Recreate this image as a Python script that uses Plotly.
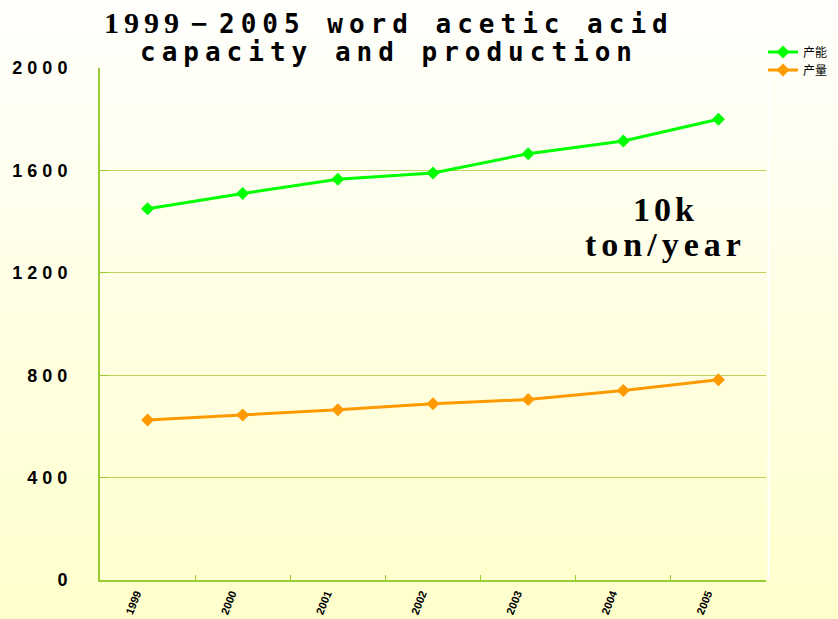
import base64, struct, zlib
import plotly.graph_objects as go

years = ["1999", "2000", "2001", "2002", "2003", "2004", "2005"]
capacity = [1450, 1510, 1565, 1590, 1665, 1715, 1800]
production = [625, 645, 665, 688, 705, 740, 782]
series_names = ["产能", "产量"]
y_ticks = [0, 400, 800, 1200, 1600, 2000]

W, H = 838, 619
L, R, T, B = 100, 72, 68, 39
PW, PH = W - L - R, H - T - B


def px_x(x):
    return (x - L) / PW


def px_y(y):
    return (H - B - y) / PH


def gradient_png(h, top, bottom):
    raw = b""
    for i in range(h):
        t = i / (h - 1)
        c = bytes(int(round(top[k] + (bottom[k] - top[k]) * t)) for k in range(3))
        raw += b"\x00" + c
    def chunk(tag, data):
        return struct.pack(">I", len(data)) + tag + data + struct.pack(">I", zlib.crc32(tag + data) & 0xffffffff)
    png = b"\x89PNG\r\n\x1a\n" + chunk(b"IHDR", struct.pack(">IIBBBBB", 1, h, 8, 2, 0, 0, 0)) \
        + chunk(b"IDAT", zlib.compress(raw)) + chunk(b"IEND", b"")
    return "data:image/png;base64," + base64.b64encode(png).decode()


bg = gradient_png(256, (255, 255, 253), (255, 255, 204))

fig = go.Figure()
fig.add_trace(go.Scatter(x=years, y=capacity, name=series_names[0], mode="lines+markers",
                         line=dict(color="#00ff00", width=3), legend="legend",
                         marker=dict(symbol="diamond", size=10, color="#00ff00")))
fig.add_trace(go.Scatter(x=years, y=production, name=series_names[1], mode="lines+markers",
                         line=dict(color="#ff9900", width=3), legend="legend2",
                         marker=dict(symbol="diamond", size=10, color="#ff9900")))

fig.add_layout_image(dict(source=bg, xref="paper", yref="paper",
                          x=-L / PW, y=1 + T / PH, sizex=W / PW, sizey=H / PH,
                          xanchor="left", yanchor="top", sizing="stretch", layer="below"))

mono = "DejaVu Sans Mono"
line1 = ('<span style="letter-spacing:5px;font-family:\'Liberation Serif\';font-size:30px">1999－</span>'
         '<span style="letter-spacing:6px">2005 word acetic acid</span>')
line2 = '<span style="letter-spacing:6px">capacity and production</span>'

legend_font = dict(family="Noto Sans CJK SC", size=12, color="#000000")

fig.update_layout(
    width=W, height=H,
    margin=dict(l=L, r=R, t=T, b=B, autoexpand=False),
    paper_bgcolor="#ffffff", plot_bgcolor="rgba(0,0,0,0)",
    showlegend=True,
    legend=dict(x=px_x(763), y=px_y(52), xanchor="left", yanchor="middle",
                bgcolor="rgba(0,0,0,0)", font=legend_font),
    legend2=dict(x=px_x(763), y=px_y(70), xanchor="left", yanchor="middle",
                 bgcolor="rgba(0,0,0,0)", font=legend_font),
    xaxis=dict(type="category", showgrid=False, showline=True, linecolor="#99cc33",
               linewidth=2, ticks="inside", ticklen=5, tickcolor="#99cc33",
               tickson="boundaries", tickangle=-68, automargin=False,
               ticklabelshift=-11, ticklabelstandoff=1,
               tickfont=dict(family="Liberation Sans Narrow, Liberation Sans", size=11,
                             color="#000000", weight="bold"),
               range=[-0.5, 6.5]),
    yaxis=dict(range=[0, 2000], tickvals=y_ticks, automargin=False,
               ticktext=['<span style="letter-spacing:5px">%d</span>' % v for v in y_ticks],
               showgrid=True, gridcolor="#bcd35a", gridwidth=1,
               showline=True, linecolor="#99cc33", linewidth=2,
               ticks="inside", ticklen=8, tickcolor="#99cc33",
               ticklabelstandoff=22, zeroline=False,
               tickfont=dict(family="Liberation Sans", size=18, color="#000000", weight="bold")),
    annotations=[
        dict(text=line1, xref="paper", yref="paper", x=px_x(389), y=px_y(22),
             xanchor="center", yanchor="middle", showarrow=False,
             font=dict(family=mono, size=26, color="#000000", weight="bold")),
        dict(text=line2, xref="paper", yref="paper", x=px_x(389), y=px_y(52),
             xanchor="center", yanchor="middle", showarrow=False,
             font=dict(family=mono, size=26, color="#000000", weight="bold")),
        dict(text='<span style="letter-spacing:4px">10k</span>', xref="paper", yref="paper",
             x=px_x(665), y=px_y(209), xanchor="center", yanchor="middle", showarrow=False,
             font=dict(family="Liberation Serif", size=34, color="#000000", weight="bold")),
        dict(text='<span style="letter-spacing:5px">ton/year</span>', xref="paper", yref="paper",
             x=px_x(665), y=px_y(244), xanchor="center", yanchor="middle", showarrow=False,
             font=dict(family="Liberation Serif", size=34, color="#000000", weight="bold")),
    ],
    shapes=[dict(type="line", xref="paper", yref="paper", x0=1.004, x1=1.004, y0=0, y1=1,
                 line=dict(color="#ffffff", width=2), layer="below")],
)

fig.write_html("out.html", config={"displayModeBar": False},
               post_script="document.body.style.margin='0';")
